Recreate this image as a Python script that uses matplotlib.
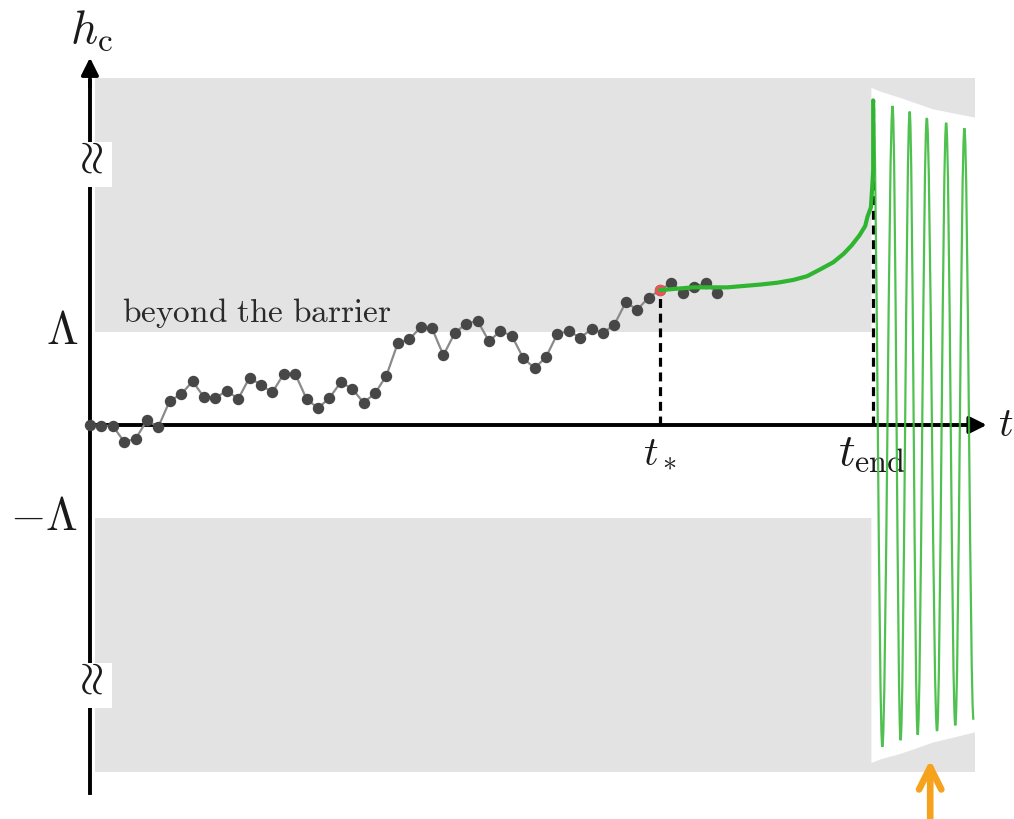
import numpy as np
import matplotlib.pyplot as plt
from matplotlib.path import Path
from matplotlib.patches import PathPatch

plt.rcParams['mathtext.fontset'] = 'cm'

# barrier height and the times marked on the axis
barrier = 1.0
band_top = 3.73
t_star = 50
t_end = 68.7

# random walk of h_c (one point per step)
walk_h = [0, -0.01, -0.01, -0.18, -0.15, 0.05, -0.02, 0.26, 0.33, 0.47,
          0.30, 0.29, 0.37, 0.28, 0.51, 0.43, 0.35, 0.55, 0.55, 0.28,
          0.18, 0.29, 0.46, 0.39, 0.24, 0.34, 0.53, 0.88, 0.92, 1.05,
          1.04, 0.75, 0.99, 1.09, 1.12, 0.90, 1.01, 0.96, 0.72, 0.61,
          0.73, 0.98, 1.01, 0.94, 1.03, 0.99, 1.08, 1.32, 1.24, 1.37,
          1.45, 1.53, 1.42, 1.48, 1.53, 1.42]
walk_t = np.arange(len(walk_h))

# classical roll after t_*
roll_t = [50.0, 52.9, 55.9, 58.8, 60.3, 61.7, 62.9, 64.0, 65.2, 66.1, 66.8,
          67.5, 68.0, 68.2, 68.5, 68.6, 68.7, 68.7]
roll_h = [1.45, 1.48, 1.48, 1.51, 1.53, 1.56, 1.60, 1.67, 1.75, 1.84, 1.93,
          2.04, 2.14, 2.24, 2.34, 2.53, 2.74, 3.49]

# turning points of the oscillations after t_end
osc_t = [68.7, 69.5, 70.4, 71.1, 71.9, 72.6, 73.4, 74.3, 75.1, 75.9, 76.7, 77.5]
osc_h = [3.49, -3.46, 3.43, -3.39, 3.37, -3.33, 3.30, -3.29, 3.25, -3.23, 3.19, -3.17]

# decaying envelope of the oscillations
env_t = [68.5, 69.3, 71.1, 73.9, 77.6]
env_top = [3.63, 3.59, 3.52, 3.40, 3.31]
env_bot = [-3.63, -3.59, -3.53, -3.41, -3.30]

# where the vertical axis is broken
break_h = [2.8, -2.8]

fig = plt.figure(figsize=(10.14, 8.19), dpi=100)
ax = fig.add_axes([0, 0, 1, 1])
ax.set_xlim(-7.89, 81.05)
ax.set_ylim(-4.237, 4.57)
ax.axis('off')

# grey regions beyond the barrier
gray = '#e3e3e3'
ax.fill_between([0.4, 77.6], barrier, band_top, color=gray, lw=0, zorder=0)
ax.fill_between([0.4, 77.6], -band_top, -barrier, color=gray, lw=0, zorder=0)
ax.fill_between(env_t, env_bot, env_top, color='white', lw=0, zorder=0.5)

# axes with arrows
ax.plot([0, 0], [-3.96, 3.7], color='black', lw=2.8, zorder=3)
ax.annotate('', xy=(0, 3.98), xytext=(0, 3.6),
            arrowprops=dict(arrowstyle='-|>', color='black', lw=2.6, mutation_scale=26), zorder=3)
ax.plot([0, 78], [0, 0], color='black', lw=2.8, zorder=3)
ax.annotate('', xy=(78.9, 0), xytext=(77.5, 0),
            arrowprops=dict(arrowstyle='-|>', color='black', lw=2.6, mutation_scale=26), zorder=3)

# dashed markers for t_* and t_end
ax.plot([t_star, t_star], [0, walk_h[t_star]], color='black', lw=2.3,
        dashes=(2.8, 1.8), zorder=2)
ax.plot([t_end, t_end], [0, osc_h[0]], color='black', lw=2.3,
        dashes=(2.8, 1.8), zorder=2)

# random walk
ax.plot(walk_t, walk_h, color='#8a8a8a', lw=1.6, zorder=4)
ax.plot(walk_t, walk_h, 'o', color='#474747', ms=7.2, zorder=5)
ax.plot(walk_t[t_star], walk_h[t_star], 'o', color='#e8545a', ms=7.2, zorder=6)

# oscillations: smooth strokes between turning points
verts = [(osc_t[0], osc_h[0])]
codes = [Path.MOVETO]
for i in range(1, len(osc_t)):
    t0, h0 = osc_t[i - 1], osc_h[i - 1]
    t1, h1 = osc_t[i], osc_h[i]
    dt = t1 - t0
    verts += [(t0 + 0.36 * dt, h0), (t1 - 0.36 * dt, h1), (t1, h1)]
    codes += [Path.CURVE4] * 3
ax.add_patch(PathPatch(Path(verts, codes), fill=False, ec='#3dba3d', lw=1.6,
                       alpha=0.9, zorder=4))

# green trajectory
ax.plot(roll_t, roll_h, color='#2fb52f', lw=3, zorder=6,
        solid_capstyle='round', solid_joinstyle='round')

# labels
txt = '#1a1a1a'
ax.text(0.1, 4.24, r'$h_{\mathrm{c}}$', fontsize=34, ha='center', va='center', color=txt)
ax.text(80.3, 0.0, r'$t$', fontsize=29, ha='center', va='center', color=txt)
ax.text(-1.05, barrier, r'$\Lambda$', fontsize=33, ha='right', va='center', color=txt)
ax.text(-1.05, -barrier, r'$-\Lambda$', fontsize=33, ha='right', va='center', color=txt)
ax.text(t_star, -0.3, r'$t_*$', fontsize=29, ha='center', va='center', color=txt)
ax.text(t_end - 0.1, -0.3, r'$t_{\mathrm{end}}$', fontsize=33, ha='center', va='center', color=txt)
ax.text(2.8, 1.2, r'$\mathrm{beyond\ the\ barrier}$', fontsize=24, ha='left',
        va='center', color='#2a2a2a')

# axis break symbols on white patches
for hb in break_h:
    ax.fill_between([-1.4, 1.9], hb - 0.24, hb + 0.24, color='white', lw=0, zorder=6)
    ax.text(0.1, hb + 0.02, r'$\approx$', fontsize=33, rotation=90, ha='center', va='center',
            color=txt, zorder=7)

# orange pointer under the oscillations
ax.annotate('', xy=(73.7, -3.57), xytext=(73.7, -4.3),
            arrowprops=dict(arrowstyle='->', color='#f7a21c', lw=4.8, mutation_scale=40))

plt.savefig('out.png', dpi=100)
